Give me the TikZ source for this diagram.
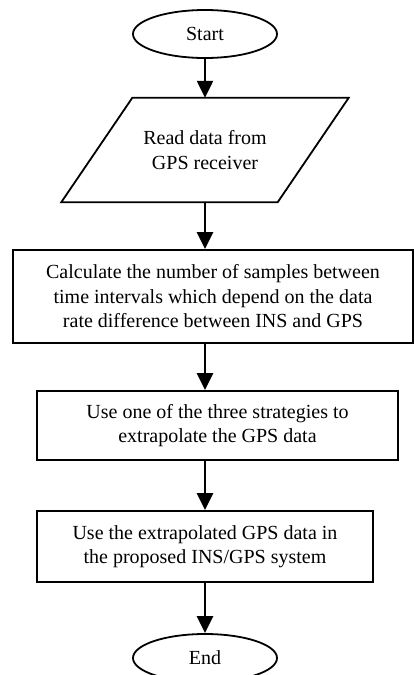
\documentclass[tikz,border=0pt]{standalone}
\usepackage{fontspec}
\setmainfont{Liberation Serif}
\usetikzlibrary{shapes.geometric,arrows.meta}

\tikzset{
  terminal/.style={ellipse, draw, line width=1.8pt, inner sep=0pt,
    minimum width=144pt, minimum height=48pt},
  iobox/.style={inner sep=0pt, minimum width=216pt, minimum height=104pt, align=center},
  procbox/.style={rectangle, draw, line width=1.8pt, inner sep=0pt, align=center},
  flowline/.style={line width=2.4pt, -{Triangle[width=16pt,length=17pt]}},
  slantedge/.style={line width=1.8pt, line join=miter}
}

\begin{document}
\begin{tikzpicture}[x=1pt, y=-1pt, font=\fontsize{20}{24.5}\selectfont]
  \useasboundingbox (0,0) rectangle (414,675);

  % terminals
  \node[terminal] (start) at (205,34) {Start};
  \node[terminal] (stop) at (205,658) {End};

  % input step: text node framed by a parallelogram
  \node[iobox] (read) at (205,150) {Read data from\\GPS receiver};
  \draw[slantedge]
    ([xshift=-35.5pt]read.south west) -- ([xshift=-35.5pt]read.south east)
    -- ([xshift=35.5pt]read.north east) -- ([xshift=35.5pt]read.north west) -- cycle;

  % processing steps
  \node[procbox, minimum width=400pt, minimum height=93pt] (calc) at (213,296.5)
    {Calculate the number of samples between\\time intervals which depend on the data\\rate difference between INS and GPS};
  \node[procbox, minimum width=361pt, minimum height=69pt] (strat) at (217.5,425.5)
    {Use one of the three strategies to\\extrapolate the GPS data};
  \node[procbox, minimum width=336pt, minimum height=71pt] (use) at (205,546.5)
    {Use the extrapolated GPS data in\\the proposed INS/GPS system};

  % connectors along the common vertical axis
  \draw[flowline] (start.south) -- (read.north);
  \draw[flowline] (read.south) -- (start |- calc.north);
  \draw[flowline] (start |- calc.south) -- (start |- strat.north);
  \draw[flowline] (start |- strat.south) -- (start |- use.north);
  \draw[flowline] (use.south) -- (stop.north);
\end{tikzpicture}
\end{document}
